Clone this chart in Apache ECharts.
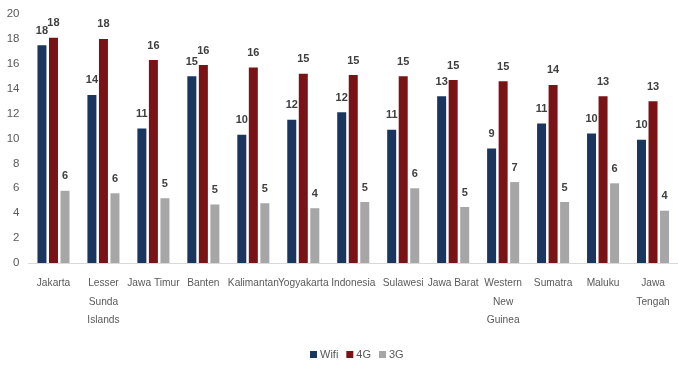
<!DOCTYPE html>
<html>
<head>
<meta charset="utf-8">
<script src="https://cdn.jsdelivr.net/npm/echarts@6/dist/echarts.min.js"></script>
<style>
  html, body { margin: 0; padding: 0; background: #fff; }
  #chart { width: 678px; height: 365px; }
</style>
</head>
<body>
<div id="chart"></div>
<script>
// Regions (line breaks give the wrapped axis labels)
const regions = [
  'Jakarta', 'Lesser\nSunda\nIslands', 'Jawa Timur', 'Banten', 'Kalimantan',
  'Yogyakarta', 'Indonesia', 'Sulawesi', 'Jawa Barat', 'Western\nNew\nGuinea',
  'Sumatra', 'Maluku', 'Jawa\nTengah'
];

// Average speeds per connection type
const wifi = [17.5, 13.5, 10.8, 15.0, 10.3, 11.5, 12.1, 10.7, 13.4, 9.2, 11.2, 10.4, 9.9];
const g4   = [18.1, 18.0, 16.3, 15.9, 15.7, 15.2, 15.1, 15.0, 14.7, 14.6, 14.3, 13.4, 13.0];
const g3   = [5.8, 5.6, 5.2, 4.7, 4.8, 4.4, 4.9, 6.0, 4.5, 6.5, 4.9, 6.4, 4.2];

// Value axis ticks
const yMin = 0, yMax = 20, yStep = 2;

const FONT = "'Liberation Sans', Arial, sans-serif";
const TEXT = '#595959';

const chart = echarts.init(document.getElementById('chart'), null, { renderer: 'canvas' });

function barSeries(name, data, color) {
  return {
    name: name,
    type: 'bar',
    data: data,
    barWidth: 9,
    barGap: '28%',
    itemStyle: { color: color },
    label: {
      show: true,
      position: 'top',
      distance: 9,
      formatter: p => Math.round(p.value),
      color: '#404040',
      fontWeight: 'bold',
      fontSize: 11,
      fontFamily: FONT
    }
  };
}

chart.setOption({
  animation: false,
  grid: { left: 28.5, right: -7, top: 14, bottom: 102, containLabel: false },
  legend: {
    bottom: 0,
    left: 305,
    itemWidth: 7,
    itemHeight: 7,
    itemGap: 8,
    icon: 'rect',
    textStyle: { color: TEXT, fontSize: 11, fontFamily: FONT, padding: [0, 0, 0, -2] },
    data: ['Wifi', '4G', '3G']
  },
  xAxis: {
    type: 'category',
    data: regions,
    axisLine: { show: true, lineStyle: { color: '#d9d9d9', width: 1 } },
    axisTick: { show: false },
    axisLabel: {
      interval: 0,
      color: TEXT,
      fontSize: 10.2,
      fontFamily: FONT,
      lineHeight: 18.5,
      margin: 11,
      align: 'center'
    }
  },
  yAxis: {
    type: 'value',
    min: yMin,
    max: yMax,
    interval: yStep,
    axisLine: { show: false },
    axisTick: { show: false },
    splitLine: { show: false },
    axisLabel: { color: TEXT, fontSize: 11.5, fontFamily: FONT, margin: 9 }
  },
  series: [
    barSeries('Wifi', wifi, '#1a355e'),
    barSeries('4G', g4, '#7a1315'),
    barSeries('3G', g3, '#a6a6a6')
  ]
});
</script>
</body>
</html>
